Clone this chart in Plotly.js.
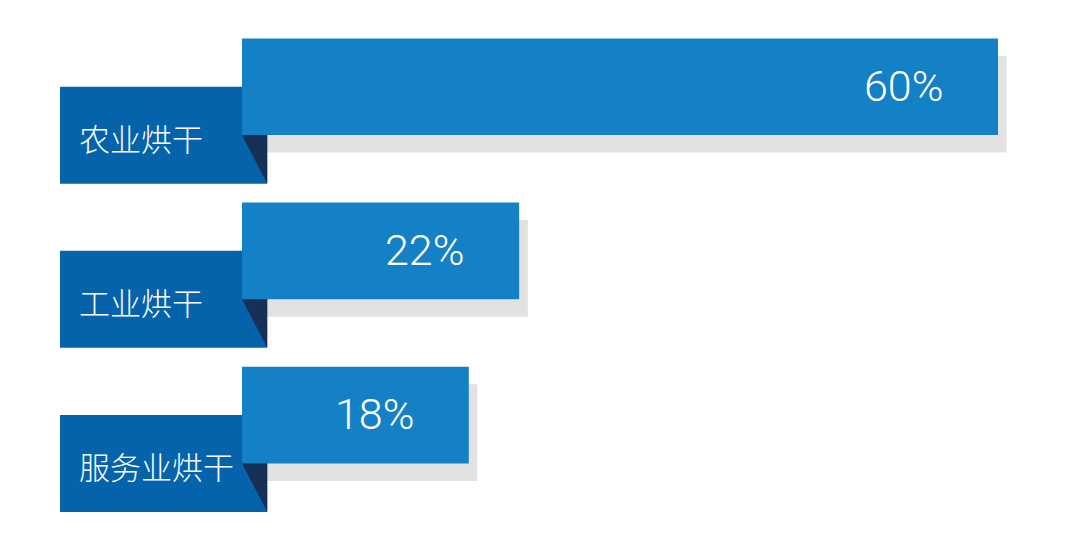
<!DOCTYPE html>
<html><head><meta charset="utf-8">
<script src="https://cdn.plot.ly/plotly-3.0.1.min.js"></script>
<style>html,body{margin:0;padding:0;background:#fff;}#chart{width:1080px;height:559px;}</style>
</head><body><div id="chart"></div>
<script>
// ---- data ----
const categories = ['农业烘干', '工业烘干', '服务业烘干'];
const shares = [60, 22, 18];
const shareLabels = ['60%', '22%', '18%'];

// ---- layout helpers (pixel -> paper) ----
const W = 1080, H = 559;
const px = x => x / W, py = y => 1 - y / H;
const rowPitch = 164.15, firstCenter = 86.75;
const bandTop = firstCenter - 0.5 * rowPitch, bandBot = firstCenter + 2.5 * rowPitch;
const labelShift = 48.4, shadowDy = 17.5, shadowDx = 8.6;
const barLeft = 242, pxPerUnit = 12.6, xMax = 64;
const barFrac = 0.589;

const colBar = '#1480c6', colLabel = '#0563ab', colFold = '#173058', colShadow = '#e2e2e2';

const hiddenCat = (domain, anchor) => ({
  type: 'category', categoryorder: 'array', categoryarray: categories,
  range: [2.5, -0.5], domain: domain, anchor: anchor, visible: false, fixedrange: true
});
const hiddenLin = (domain, range, anchor) => ({
  type: 'linear', range: range, domain: domain, anchor: anchor, visible: false, fixedrange: true
});

const traces = [
  { // shadow
    type: 'bar', orientation: 'h', x: shares, y: categories, xaxis: 'x', yaxis: 'y',
    width: barFrac, marker: {color: colShadow, line: {width: 0}}, hoverinfo: 'skip', showlegend: false
  },
  { // label boxes
    type: 'bar', orientation: 'h', x: categories.map(() => 1), y: categories, xaxis: 'x2', yaxis: 'y2',
    width: 0.591, marker: {color: colLabel, line: {width: 0}}, hoverinfo: 'skip', showlegend: false
  },
  { // main bars
    type: 'bar', orientation: 'h', x: shares, y: categories, xaxis: 'x3', yaxis: 'y3',
    width: barFrac, marker: {color: colBar, line: {width: 0}}, hoverinfo: 'skip', showlegend: false
  }
];

const shapes = categories.map((c, i) => {
  const center = firstCenter + i * rowPitch;
  const bb = center + barFrac / 2 * rowPitch;
  const lb = center + labelShift + 0.591 / 2 * rowPitch;
  return {
    type: 'path', xref: 'paper', yref: 'paper', layer: 'above',
    path: `M ${px(barLeft)},${py(bb)} L ${px(267.3)},${py(bb)} L ${px(267.3)},${py(lb)} Z`,
    fillcolor: colFold, line: {width: 0}
  };
});

const annotations = [];
categories.forEach((c, i) => {
  annotations.push({
    xref: 'x3', yref: 'y3', x: shares[i], y: c, xanchor: 'right', yanchor: 'middle',
    xshift: -52, yshift: 1, showarrow: false, text: shareLabels[i],
    font: {family: 'Roboto, "Liberation Sans", Arial, sans-serif', size: 43, color: '#ffffff', weight: 300}
  });
  annotations.push({
    xref: 'x2', yref: 'y2', x: 0, y: c, xanchor: 'left', yanchor: 'middle',
    xshift: 17, yshift: -2, showarrow: false, text: c,
    font: {family: '"Noto Sans CJK SC", sans-serif', size: 31, color: '#ffffff', weight: 300}
  });
});

const layout = {
  width: W, height: H, margin: {l: 0, r: 0, t: 0, b: 0, pad: 0},
  paper_bgcolor: '#ffffff', plot_bgcolor: 'rgba(0,0,0,0)',
  showlegend: false, barmode: 'overlay',
  xaxis: hiddenLin([px(barLeft + shadowDx), px(barLeft + shadowDx + xMax * pxPerUnit)], [0, xMax], 'y'),
  yaxis: hiddenCat([py(bandBot + shadowDy), py(bandTop + shadowDy)], 'x'),
  xaxis2: hiddenLin([px(60), px(267.3)], [0, 1], 'y2'),
  yaxis2: hiddenCat([py(bandBot + labelShift), py(bandTop + labelShift)], 'x2'),
  xaxis3: hiddenLin([px(barLeft), px(barLeft + xMax * pxPerUnit)], [0, xMax], 'y3'),
  yaxis3: hiddenCat([py(bandBot), py(bandTop)], 'x3'),
  shapes: shapes,
  annotations: annotations
};

Plotly.newPlot('chart', traces, layout, {displayModeBar: false, staticPlot: true});
</script>
</body></html>
